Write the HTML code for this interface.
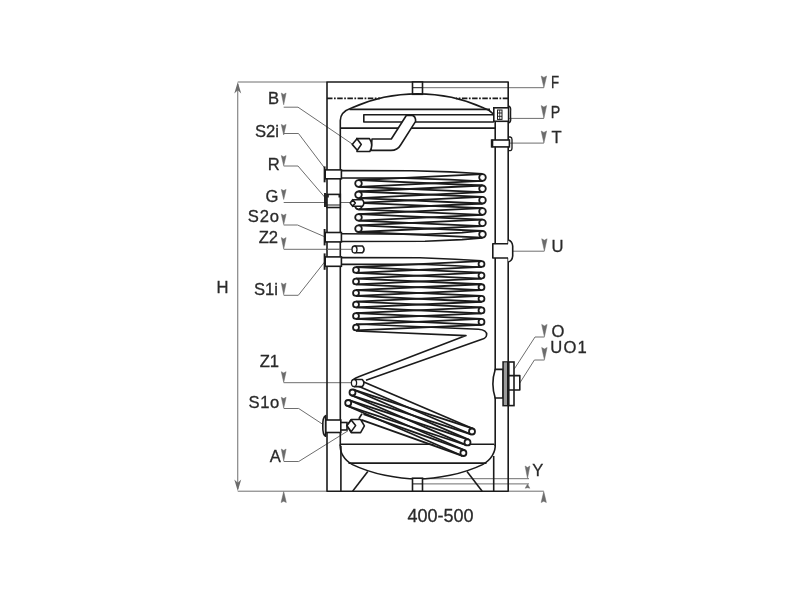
<!DOCTYPE html>
<html><head><meta charset="utf-8"><title>400-500</title>
<style>
html,body{margin:0;padding:0;background:#fff;}
svg{display:block;font-family:"Liberation Sans",sans-serif;will-change:transform;transform:translateZ(0);}
svg path, svg line{stroke-linecap:butt;stroke-linejoin:round;}
svg text{stroke:#2a2a2a;stroke-width:0.3px;}
</style></head><body>
<svg width="800" height="600" viewBox="0 0 800 600">
<rect x="0" y="0" width="800" height="600" fill="#ffffff"/>
<line x1="237.75" y1="82.00" x2="327.00" y2="82.00" stroke="#6e6e6e" stroke-width="1.0" />
<line x1="237.75" y1="491.20" x2="327.00" y2="491.20" stroke="#6e6e6e" stroke-width="1.0" />
<line x1="237.75" y1="84.00" x2="237.75" y2="489.00" stroke="#6e6e6e" stroke-width="1.0" />
<path d="M234.3 93.5 L237.75 90.3 L241.2 93.5 L237.75 82 Z" fill="#6c6c6c"/>
<path d="M234.3 479.5 L237.75 482.7 L241.2 479.5 L237.75 491 Z" fill="#6c6c6c"/>
<path d="M281.10 502.50 L283.70 501.19 L286.30 502.50 L283.70 491.60 Z" fill="#6c6c6c" stroke="#6c6c6c" stroke-width="0.5" stroke-linejoin="miter"/>
<line x1="508.20" y1="491.20" x2="543.75" y2="491.20" stroke="#6e6e6e" stroke-width="1.0" />
<path d="M541.15 502.50 L543.75 501.19 L546.35 502.50 L543.75 491.60 Z" fill="#6c6c6c" stroke="#6c6c6c" stroke-width="0.5" stroke-linejoin="miter"/>
<line x1="412.50" y1="478.70" x2="529.00" y2="478.70" stroke="#6e6e6e" stroke-width="1.0" />
<line x1="412.50" y1="483.90" x2="529.00" y2="483.90" stroke="#6e6e6e" stroke-width="1.0" />
<path d="M525.10 466.00 L527.50 467.48 L529.90 466.00 L527.50 478.30 Z" fill="#6c6c6c" stroke="#6c6c6c" stroke-width="0.5" stroke-linejoin="miter"/>
<path d="M525.20 488.20 L527.50 487.72 L529.80 488.20 L527.50 484.20 Z" fill="#6c6c6c" stroke="#6c6c6c" stroke-width="0.5" stroke-linejoin="miter"/>
<path d="M283.70 107.20 L298.00 107.20 L352.50 144.20" stroke="#6e6e6e" stroke-width="1.0" fill="none" />
<path d="M281.30 93.00 L283.70 94.42 L286.10 93.00 L283.70 104.80 Z" fill="#6c6c6c" stroke="#6c6c6c" stroke-width="0.5" stroke-linejoin="miter"/>
<path d="M283.70 133.50 L298.50 133.50 L324.60 168.00" stroke="#6e6e6e" stroke-width="1.0" fill="none" />
<path d="M281.30 124.40 L283.70 125.67 L286.10 124.40 L283.70 135.00 Z" fill="#6c6c6c" stroke="#6c6c6c" stroke-width="0.5" stroke-linejoin="miter"/>
<path d="M283.70 166.00 L298.00 166.00 L325.00 197.50" stroke="#6e6e6e" stroke-width="1.0" fill="none" />
<path d="M281.30 155.60 L283.70 156.82 L286.10 155.60 L283.70 165.80 Z" fill="#6c6c6c" stroke="#6c6c6c" stroke-width="0.5" stroke-linejoin="miter"/>
<path d="M283.70 202.50 L350.50 202.50" stroke="#6e6e6e" stroke-width="1.0" fill="none" />
<path d="M281.30 189.40 L283.70 190.61 L286.10 189.40 L283.70 199.50 Z" fill="#6c6c6c" stroke="#6c6c6c" stroke-width="0.5" stroke-linejoin="miter"/>
<path d="M283.70 225.00 L297.50 225.00 L324.80 236.80" stroke="#6e6e6e" stroke-width="1.0" fill="none" />
<path d="M281.30 214.00 L283.70 215.27 L286.10 214.00 L283.70 224.60 Z" fill="#6c6c6c" stroke="#6c6c6c" stroke-width="0.5" stroke-linejoin="miter"/>
<path d="M283.70 249.30 L352.00 249.30" stroke="#6e6e6e" stroke-width="1.0" fill="none" />
<path d="M281.30 237.60 L283.70 238.97 L286.10 237.60 L283.70 249.00 Z" fill="#6c6c6c" stroke="#6c6c6c" stroke-width="0.5" stroke-linejoin="miter"/>
<path d="M283.70 295.30 L298.30 295.30 L324.60 262.00" stroke="#6e6e6e" stroke-width="1.0" fill="none" />
<path d="M281.30 283.00 L283.70 284.42 L286.10 283.00 L283.70 294.80 Z" fill="#6c6c6c" stroke="#6c6c6c" stroke-width="0.5" stroke-linejoin="miter"/>
<path d="M283.70 382.70 L351.30 382.70" stroke="#6e6e6e" stroke-width="1.0" fill="none" />
<path d="M281.30 371.70 L283.70 372.98 L286.10 371.70 L283.70 382.40 Z" fill="#6c6c6c" stroke="#6c6c6c" stroke-width="0.5" stroke-linejoin="miter"/>
<path d="M283.70 408.50 L298.70 408.50 L322.00 423.80" stroke="#6e6e6e" stroke-width="1.0" fill="none" />
<path d="M281.30 397.30 L283.70 398.58 L286.10 397.30 L283.70 408.00 Z" fill="#6c6c6c" stroke="#6c6c6c" stroke-width="0.5" stroke-linejoin="miter"/>
<path d="M283.70 461.50 L298.70 461.50 L348.00 430.80" stroke="#6e6e6e" stroke-width="1.0" fill="none" />
<path d="M281.30 449.00 L283.70 450.44 L286.10 449.00 L283.70 461.00 Z" fill="#6c6c6c" stroke="#6c6c6c" stroke-width="0.5" stroke-linejoin="miter"/>
<path d="M412.50 87.70 L543.90 87.70" stroke="#6e6e6e" stroke-width="1.0" fill="none" />
<path d="M541.20 76.00 L543.90 77.39 L546.60 76.00 L543.90 87.60 Z" fill="#6c6c6c" stroke="#6c6c6c" stroke-width="0.5" stroke-linejoin="miter"/>
<path d="M506.00 118.40 L543.90 118.40" stroke="#6e6e6e" stroke-width="1.0" fill="none" />
<path d="M541.20 105.60 L543.90 107.11 L546.60 105.60 L543.90 118.20 Z" fill="#6c6c6c" stroke="#6c6c6c" stroke-width="0.5" stroke-linejoin="miter"/>
<path d="M505.00 143.10 L543.90 143.10" stroke="#6e6e6e" stroke-width="1.0" fill="none" />
<path d="M541.20 131.00 L543.90 132.44 L546.60 131.00 L543.90 143.00 Z" fill="#6c6c6c" stroke="#6c6c6c" stroke-width="0.5" stroke-linejoin="miter"/>
<path d="M503.80 251.20 L544.40 251.20" stroke="#6e6e6e" stroke-width="1.0" fill="none" />
<path d="M541.70 238.80 L544.40 240.26 L547.10 238.80 L544.40 251.00 Z" fill="#6c6c6c" stroke="#6c6c6c" stroke-width="0.5" stroke-linejoin="miter"/>
<path d="M514.40 368.80 L535.00 337.00 L544.40 337.00" stroke="#6e6e6e" stroke-width="1.0" fill="none" />
<path d="M541.70 324.40 L544.40 325.89 L547.10 324.40 L544.40 336.80 Z" fill="#6c6c6c" stroke="#6c6c6c" stroke-width="0.5" stroke-linejoin="miter"/>
<path d="M519.80 383.00 L534.40 360.00 L544.40 360.00" stroke="#6e6e6e" stroke-width="1.0" fill="none" />
<path d="M541.70 347.50 L544.40 348.98 L547.10 347.50 L544.40 359.80 Z" fill="#6c6c6c" stroke="#6c6c6c" stroke-width="0.5" stroke-linejoin="miter"/>
<path d="M327.0 491.2 L327.0 82.0 L508.2 82.0 L508.2 491.2 Z" stroke="#1b1b1b" stroke-width="1.6" fill="none" />
<line x1="327.00" y1="98.40" x2="380.00" y2="98.40" stroke="#1b1b1b" stroke-width="1.6" stroke-dasharray="5.5 1.5 1.7 1.5"/>
<line x1="508.20" y1="98.40" x2="456.00" y2="98.40" stroke="#1b1b1b" stroke-width="1.6" stroke-dasharray="5.5 1.5 1.7 1.5"/>
<rect x="412.50" y="82.00" width="10.00" height="12.30" fill="#fff" stroke="#1b1b1b" stroke-width="1.6"/>
<line x1="412.50" y1="87.70" x2="422.50" y2="87.70" stroke="#1b1b1b" stroke-width="1.0" />
<path d="M340.3 446 L340.3 120.5 C340.3 113.5 344.5 110.3 351.5 107.9 A161 161 0 0 1 483.8 107.9 C490.5 110.3 495.2 113.5 495.2 120.5 L495.2 446" stroke="#1b1b1b" stroke-width="1.6" fill="none" />
<line x1="349.50" y1="109.40" x2="490.00" y2="109.40" stroke="#1b1b1b" stroke-width="1.6" />
<line x1="340.30" y1="128.10" x2="495.20" y2="128.10" stroke="#1b1b1b" stroke-width="1.6" />
<path d="M493.8 114.7 L363.8 114.7 L363.8 122 L493.8 122" stroke="#1b1b1b" stroke-width="1.6" fill="none" />
<path d="M372 139 L391.3 139 L406.3 115.5 L411.8 115.1 Q415.8 116 415.6 121.4 L400.6 145 Q397.5 150.4 391 150.4 L371 150.4 Z" stroke="#1b1b1b" stroke-width="1.6" fill="#fff" />
<path d="M356 138.6 L369.5 138.6 Q373.8 145 369.8 151.5 L356.5 151.5" stroke="#1b1b1b" stroke-width="1.6" fill="#fff" />
<path d="M352.2 144.4 L357 138.7 L361.3 144.4 L357.3 150.2 Z" stroke="#1b1b1b" stroke-width="1.6" fill="#fff" />
<path d="M357.3 150.2 L356.5 151.5 M357 138.7 L356 138.6" stroke="#1b1b1b" stroke-width="1.2" fill="none" />
<rect x="493.80" y="107.80" width="14.80" height="13.50" fill="#fff" stroke="#1b1b1b" stroke-width="1.6"/>
<path d="M508.4 106 Q511.4 106.5 510.6 112 L510.6 117 Q511.4 122.5 508.4 123" stroke="#1b1b1b" stroke-width="1.3" fill="none" />
<rect x="497.50" y="110.00" width="4.50" height="9.40" fill="#fff" stroke="#1b1b1b" stroke-width="1.0"/>
<line x1="497.50" y1="113.00" x2="502.00" y2="113.00" stroke="#1b1b1b" stroke-width="0.9" />
<line x1="497.50" y1="116.30" x2="502.00" y2="116.30" stroke="#1b1b1b" stroke-width="0.9" />
<line x1="499.70" y1="110.00" x2="499.70" y2="119.40" stroke="#1b1b1b" stroke-width="0.8" />
<rect x="492.50" y="140.00" width="16.90" height="6.90" fill="#fff" stroke="#1b1b1b" stroke-width="1.6"/>
<path d="M508.6 137 L510.3 137 Q512 137.3 512 139.5 L512 148 Q512 150.4 510.3 150.6 L508.6 150.6" stroke="#1b1b1b" stroke-width="1.3" fill="none" />
<path d="M491.6 139.3 L491.6 147.6" stroke="#1b1b1b" stroke-width="1.6" fill="none" />
<rect x="492.8" y="243.8" width="16.5" height="14.2" fill="#fff"/>
<path d="M508.2 243.8 L492.8 243.8 L492.8 258 L508.2 258" stroke="#1b1b1b" stroke-width="1.6" fill="none" />
<path d="M508.2 240 Q512.2 241 512.7 246 L512.7 256 Q512.2 261 508.2 262" stroke="#1b1b1b" stroke-width="1.6" fill="#fff" />
<rect x="325.20" y="169.90" width="16.20" height="8.90" fill="#fff" stroke="#1b1b1b" stroke-width="1.6"/>
<path d="M324.59999999999997 166.4 L324.59999999999997 182.3" stroke="#1b1b1b" stroke-width="1.9" fill="none" />
<rect x="325.20" y="232.50" width="16.20" height="9.40" fill="#fff" stroke="#1b1b1b" stroke-width="1.6"/>
<path d="M324.59999999999997 229.0 L324.59999999999997 245.4" stroke="#1b1b1b" stroke-width="1.9" fill="none" />
<rect x="325.20" y="256.90" width="16.20" height="9.40" fill="#fff" stroke="#1b1b1b" stroke-width="1.6"/>
<path d="M324.59999999999997 253.39999999999998 L324.59999999999997 269.8" stroke="#1b1b1b" stroke-width="1.9" fill="none" />
<rect x="327.00" y="194.40" width="13.30" height="13.10" fill="#fff" stroke="#1b1b1b" stroke-width="1.6"/>
<line x1="327.00" y1="205.00" x2="340.30" y2="205.00" stroke="#1b1b1b" stroke-width="1.0" />
<path d="M325 193 L325 207" stroke="#1b1b1b" stroke-width="1.9" fill="none" />
<path d="M328 194.4 L328 197.5 M339.3 194.4 L339.3 197.5" stroke="#1b1b1b" stroke-width="1.6" fill="none" />
<line x1="327.00" y1="249.30" x2="340.30" y2="249.30" stroke="#6e6e6e" stroke-width="1.0" />
<rect x="325.60" y="420.00" width="15.20" height="12.50" fill="#fff" stroke="#1b1b1b" stroke-width="1.6"/>
<path d="M325.6 415.6 Q322.6 417 322.8 426 Q322.6 435 325.6 436.2 Z" stroke="#1b1b1b" stroke-width="1.6" fill="#fff" />
<rect x="340.80" y="422.50" width="6.20" height="7.50" fill="#fff" stroke="#1b1b1b" stroke-width="1.6"/>
<path d="M341.4 170.6 L412 170.7 L450 171.9 L482.5 173.70" stroke="#1b1b1b" stroke-width="1.6" fill="none" />
<path d="M341.4 178 L405 178.1 L450 179.6 L482.5 181.30" stroke="#1b1b1b" stroke-width="1.6" fill="none" />
<path d="M341.4 233.8 L425 234.2 L462 232.6 L482.5 230.70" stroke="#1b1b1b" stroke-width="1.6" fill="none" />
<path d="M341.4 241.5 L425 241.3 L462 239.6 L482.5 237.90" stroke="#1b1b1b" stroke-width="1.6" fill="none" />
<line x1="358.66" y1="186.80" x2="482.66" y2="180.80" stroke="#1b1b1b" stroke-width="1.8" />
<line x1="358.34" y1="180.20" x2="482.34" y2="174.20" stroke="#1b1b1b" stroke-width="1.8" />
<line x1="358.36" y1="186.80" x2="482.36" y2="192.10" stroke="#1b1b1b" stroke-width="1.8" />
<line x1="358.64" y1="180.20" x2="482.64" y2="185.50" stroke="#1b1b1b" stroke-width="1.8" />
<line x1="358.66" y1="198.10" x2="482.66" y2="192.10" stroke="#1b1b1b" stroke-width="1.8" />
<line x1="358.34" y1="191.50" x2="482.34" y2="185.50" stroke="#1b1b1b" stroke-width="1.8" />
<line x1="358.36" y1="198.10" x2="482.36" y2="203.50" stroke="#1b1b1b" stroke-width="1.8" />
<line x1="358.64" y1="191.50" x2="482.64" y2="196.90" stroke="#1b1b1b" stroke-width="1.8" />
<line x1="358.66" y1="209.40" x2="482.66" y2="203.50" stroke="#1b1b1b" stroke-width="1.8" />
<line x1="358.34" y1="202.80" x2="482.34" y2="196.90" stroke="#1b1b1b" stroke-width="1.8" />
<line x1="358.36" y1="209.40" x2="482.36" y2="214.80" stroke="#1b1b1b" stroke-width="1.8" />
<line x1="358.64" y1="202.80" x2="482.64" y2="208.20" stroke="#1b1b1b" stroke-width="1.8" />
<line x1="358.66" y1="220.70" x2="482.66" y2="214.80" stroke="#1b1b1b" stroke-width="1.8" />
<line x1="358.34" y1="214.10" x2="482.34" y2="208.20" stroke="#1b1b1b" stroke-width="1.8" />
<line x1="358.35" y1="220.70" x2="482.35" y2="226.20" stroke="#1b1b1b" stroke-width="1.8" />
<line x1="358.65" y1="214.10" x2="482.65" y2="219.60" stroke="#1b1b1b" stroke-width="1.8" />
<line x1="358.65" y1="232.00" x2="482.65" y2="226.20" stroke="#1b1b1b" stroke-width="1.8" />
<line x1="358.35" y1="225.40" x2="482.35" y2="219.60" stroke="#1b1b1b" stroke-width="1.8" />
<line x1="358.35" y1="232.00" x2="482.35" y2="237.60" stroke="#1b1b1b" stroke-width="1.8" />
<line x1="358.65" y1="225.40" x2="482.65" y2="231.00" stroke="#1b1b1b" stroke-width="1.8" />
<circle cx="482.50" cy="177.50" r="3.30" fill="#fff" stroke="#1b1b1b" stroke-width="1.8"/>
<circle cx="482.50" cy="188.80" r="3.30" fill="#fff" stroke="#1b1b1b" stroke-width="1.8"/>
<circle cx="482.50" cy="200.20" r="3.30" fill="#fff" stroke="#1b1b1b" stroke-width="1.8"/>
<circle cx="482.50" cy="211.50" r="3.30" fill="#fff" stroke="#1b1b1b" stroke-width="1.8"/>
<circle cx="482.50" cy="222.90" r="3.30" fill="#fff" stroke="#1b1b1b" stroke-width="1.8"/>
<circle cx="482.50" cy="234.30" r="3.30" fill="#fff" stroke="#1b1b1b" stroke-width="1.8"/>
<circle cx="358.50" cy="183.50" r="3.30" fill="#fff" stroke="#1b1b1b" stroke-width="1.8"/>
<circle cx="358.50" cy="194.80" r="3.30" fill="#fff" stroke="#1b1b1b" stroke-width="1.8"/>
<circle cx="358.50" cy="206.10" r="3.30" fill="#fff" stroke="#1b1b1b" stroke-width="1.8"/>
<circle cx="358.50" cy="217.40" r="3.30" fill="#fff" stroke="#1b1b1b" stroke-width="1.8"/>
<circle cx="358.50" cy="228.70" r="3.30" fill="#fff" stroke="#1b1b1b" stroke-width="1.8"/>
<path d="M352.7 199.7 L362.5 199.7 Q365.2 203 362.5 206.3 L352.7 206.3" stroke="#1b1b1b" stroke-width="1.6" fill="#fff" />
<path d="M350.2 203 L352.7 199.7 L355.3 203 L352.7 206.3 Z" stroke="#1b1b1b" stroke-width="1.6" fill="#fff" />
<path d="M354.3 246 L362.5 246 Q365.6 249.4 362.5 252.8 L354.3 252.8" stroke="#1b1b1b" stroke-width="1.6" fill="#fff" />
<ellipse cx="354.5" cy="249.4" rx="2.5" ry="3.4" fill="#fff" stroke="#1b1b1b" stroke-width="1.3"/>
<path d="M341.4 257.6 L420 257.7 L455 259.2 L481.5 260.75" stroke="#1b1b1b" stroke-width="1.6" fill="none" />
<path d="M341.4 264.4 L420 264.3 L455 265.8 L481.5 267.25" stroke="#1b1b1b" stroke-width="1.6" fill="none" />
<line x1="356.14" y1="272.95" x2="481.64" y2="266.95" stroke="#1b1b1b" stroke-width="1.8" />
<line x1="355.86" y1="267.05" x2="481.36" y2="261.05" stroke="#1b1b1b" stroke-width="1.8" />
<line x1="355.87" y1="272.95" x2="481.37" y2="278.55" stroke="#1b1b1b" stroke-width="1.8" />
<line x1="356.13" y1="267.05" x2="481.63" y2="272.65" stroke="#1b1b1b" stroke-width="1.8" />
<line x1="356.14" y1="284.45" x2="481.64" y2="278.55" stroke="#1b1b1b" stroke-width="1.8" />
<line x1="355.86" y1="278.55" x2="481.36" y2="272.65" stroke="#1b1b1b" stroke-width="1.8" />
<line x1="355.87" y1="284.45" x2="481.37" y2="290.15" stroke="#1b1b1b" stroke-width="1.8" />
<line x1="356.13" y1="278.55" x2="481.63" y2="284.25" stroke="#1b1b1b" stroke-width="1.8" />
<line x1="356.14" y1="295.95" x2="481.64" y2="290.15" stroke="#1b1b1b" stroke-width="1.8" />
<line x1="355.86" y1="290.05" x2="481.36" y2="284.25" stroke="#1b1b1b" stroke-width="1.8" />
<line x1="355.86" y1="295.95" x2="481.36" y2="301.75" stroke="#1b1b1b" stroke-width="1.8" />
<line x1="356.14" y1="290.05" x2="481.64" y2="295.85" stroke="#1b1b1b" stroke-width="1.8" />
<line x1="356.13" y1="307.45" x2="481.63" y2="301.75" stroke="#1b1b1b" stroke-width="1.8" />
<line x1="355.87" y1="301.55" x2="481.37" y2="295.85" stroke="#1b1b1b" stroke-width="1.8" />
<line x1="355.86" y1="307.45" x2="481.36" y2="313.35" stroke="#1b1b1b" stroke-width="1.8" />
<line x1="356.14" y1="301.55" x2="481.64" y2="307.45" stroke="#1b1b1b" stroke-width="1.8" />
<line x1="356.13" y1="318.95" x2="481.63" y2="313.35" stroke="#1b1b1b" stroke-width="1.8" />
<line x1="355.87" y1="313.05" x2="481.37" y2="307.45" stroke="#1b1b1b" stroke-width="1.8" />
<line x1="355.86" y1="318.95" x2="481.36" y2="324.85" stroke="#1b1b1b" stroke-width="1.8" />
<line x1="356.14" y1="313.05" x2="481.64" y2="318.95" stroke="#1b1b1b" stroke-width="1.8" />
<line x1="356.13" y1="330.45" x2="481.63" y2="324.85" stroke="#1b1b1b" stroke-width="1.8" />
<line x1="355.87" y1="324.55" x2="481.37" y2="318.95" stroke="#1b1b1b" stroke-width="1.8" />
<circle cx="481.50" cy="264.00" r="2.95" fill="#fff" stroke="#1b1b1b" stroke-width="1.8"/>
<circle cx="481.50" cy="275.60" r="2.95" fill="#fff" stroke="#1b1b1b" stroke-width="1.8"/>
<circle cx="481.50" cy="287.20" r="2.95" fill="#fff" stroke="#1b1b1b" stroke-width="1.8"/>
<circle cx="481.50" cy="298.80" r="2.95" fill="#fff" stroke="#1b1b1b" stroke-width="1.8"/>
<circle cx="481.50" cy="310.40" r="2.95" fill="#fff" stroke="#1b1b1b" stroke-width="1.8"/>
<circle cx="481.50" cy="321.90" r="2.95" fill="#fff" stroke="#1b1b1b" stroke-width="1.8"/>
<circle cx="356.00" cy="270.00" r="2.95" fill="#fff" stroke="#1b1b1b" stroke-width="1.8"/>
<circle cx="356.00" cy="281.50" r="2.95" fill="#fff" stroke="#1b1b1b" stroke-width="1.8"/>
<circle cx="356.00" cy="293.00" r="2.95" fill="#fff" stroke="#1b1b1b" stroke-width="1.8"/>
<circle cx="356.00" cy="304.50" r="2.95" fill="#fff" stroke="#1b1b1b" stroke-width="1.8"/>
<circle cx="356.00" cy="316.00" r="2.95" fill="#fff" stroke="#1b1b1b" stroke-width="1.8"/>
<circle cx="356.00" cy="327.50" r="2.95" fill="#fff" stroke="#1b1b1b" stroke-width="1.8"/>
<path d="M356 324 L478.5 329.3 Q487.2 330 486.6 335 Q486.2 338.2 482 339.3 L366 380.2" stroke="#1b1b1b" stroke-width="1.6" fill="none" />
<path d="M356 331 L466 335.6 L358 377 Q353.5 378.5 352.3 381.5" stroke="#1b1b1b" stroke-width="1.6" fill="none" />
<line x1="340.30" y1="444.30" x2="494.20" y2="444.30" stroke="#1b1b1b" stroke-width="1.6" />
<path d="M340.3 444.3 C339.5 452 344 460 352.5 464.6 C372 474 398 479 417.5 479 C437 479 463 474 482.5 464.6 C491 460 495.8 452 495.2 444.3" stroke="#1b1b1b" stroke-width="1.6" fill="none" />
<line x1="348.50" y1="463.10" x2="486.50" y2="463.10" stroke="#1b1b1b" stroke-width="1.6" />
<line x1="340.90" y1="446.00" x2="340.90" y2="491.20" stroke="#1b1b1b" stroke-width="1.6" />
<line x1="493.70" y1="456.00" x2="493.70" y2="491.20" stroke="#1b1b1b" stroke-width="1.6" />
<line x1="367.80" y1="471.60" x2="352.60" y2="491.20" stroke="#1b1b1b" stroke-width="1.6" />
<line x1="467.00" y1="471.40" x2="482.20" y2="491.20" stroke="#1b1b1b" stroke-width="1.6" />
<rect x="412.50" y="478.20" width="10.00" height="13.00" fill="#fff" stroke="#1b1b1b" stroke-width="1.6"/>
<line x1="412.50" y1="483.90" x2="422.50" y2="483.90" stroke="#1b1b1b" stroke-width="1.0" />
<path d="M357 379 L472 427.5 L476 431.5 L472 435.5 L471.5 442.5 L467.5 446.5 L467 453 L463 457 L362 414 L346 407 L344.5 403 L349 392 Z" fill="#fff"/>
<line x1="357.32" y1="385.76" x2="470.82" y2="434.26" stroke="#1b1b1b" stroke-width="1.8" />
<line x1="359.68" y1="380.24" x2="473.18" y2="428.74" stroke="#1b1b1b" stroke-width="1.8" />
<line x1="351.57" y1="395.35" x2="471.07" y2="434.35" stroke="#1b1b1b" stroke-width="1.8" />
<line x1="353.43" y1="389.65" x2="472.93" y2="428.65" stroke="#1b1b1b" stroke-width="1.8" />
<line x1="351.31" y1="395.25" x2="466.31" y2="445.15" stroke="#1b1b1b" stroke-width="1.8" />
<line x1="353.69" y1="389.75" x2="468.69" y2="439.65" stroke="#1b1b1b" stroke-width="1.8" />
<line x1="347.26" y1="405.85" x2="466.56" y2="445.25" stroke="#1b1b1b" stroke-width="1.8" />
<line x1="349.14" y1="400.15" x2="468.44" y2="439.55" stroke="#1b1b1b" stroke-width="1.8" />
<line x1="347.01" y1="405.75" x2="462.21" y2="455.75" stroke="#1b1b1b" stroke-width="1.8" />
<line x1="349.39" y1="400.25" x2="464.59" y2="450.25" stroke="#1b1b1b" stroke-width="1.8" />
<line x1="361.49" y1="419.83" x2="462.39" y2="455.83" stroke="#1b1b1b" stroke-width="1.8" />
<line x1="363.51" y1="414.17" x2="464.41" y2="450.17" stroke="#1b1b1b" stroke-width="1.8" />
<circle cx="472.00" cy="431.50" r="3.00" fill="#fff" stroke="#1b1b1b" stroke-width="1.8"/>
<circle cx="467.50" cy="442.40" r="3.00" fill="#fff" stroke="#1b1b1b" stroke-width="1.8"/>
<circle cx="463.40" cy="453.00" r="3.00" fill="#fff" stroke="#1b1b1b" stroke-width="1.8"/>
<circle cx="352.50" cy="392.50" r="3.00" fill="#fff" stroke="#1b1b1b" stroke-width="1.8"/>
<circle cx="348.20" cy="403.00" r="3.00" fill="#fff" stroke="#1b1b1b" stroke-width="1.8"/>
<path d="M354 379.5 L362.3 379.5 Q365.6 383 362.3 386.6 L354 386.6" stroke="#1b1b1b" stroke-width="1.6" fill="#fff" />
<ellipse cx="354" cy="383" rx="2.6" ry="3.5" fill="#fff" stroke="#1b1b1b" stroke-width="1.3"/>
<line x1="362.00" y1="413.80" x2="358.80" y2="418.80" stroke="#1b1b1b" stroke-width="1.6" />
<path d="M347 425.6 L351.2 419.5 L360.6 419.5 L364.4 425.8 L360.6 432.6 L351.2 432.6 Z" stroke="#1b1b1b" stroke-width="1.6" fill="#fff" />
<path d="M347 425.6 L351.2 420 L355.6 425.6 L351.2 431.6 Z" stroke="#1b1b1b" stroke-width="1.6" fill="#fff" />
<path d="M495.2 369.4 L503.1 369.4 L503.1 398 L495.2 398 Q490.6 383.7 495.2 369.4 Z" stroke="#1b1b1b" stroke-width="1.6" fill="#fff" />
<rect x="503.10" y="362.00" width="10.90" height="43.60" fill="#fff" stroke="#1b1b1b" stroke-width="1.6"/>
<rect x="504" y="362.6" width="3.2" height="42.4" fill="#9a9a9a"/>
<path d="M508.3 362 L508.3 405.6" stroke="#1b1b1b" stroke-width="2.6" fill="none" />
<path d="M509 375.6 L519.8 375.6 L519.8 390 L509 390" stroke="#1b1b1b" stroke-width="1.6" fill="none" />
<text x="279.00" y="103.80" font-size="16.6" text-anchor="end" fill="#2a2a2a">B</text>
<text x="279.00" y="136.80" font-size="16.6" text-anchor="end" fill="#2a2a2a">S2i</text>
<text x="279.80" y="170.00" font-size="16.6" text-anchor="end" fill="#2a2a2a">R</text>
<text x="278.50" y="202.00" font-size="16.6" text-anchor="end" fill="#2a2a2a">G</text>
<text x="279.80" y="222.30" font-size="16.6" text-anchor="end" fill="#2a2a2a" letter-spacing="0.8">S2o</text>
<text x="278.00" y="242.50" font-size="16.6" text-anchor="end" fill="#2a2a2a">Z2</text>
<text x="278.00" y="295.00" font-size="16.6" text-anchor="end" fill="#2a2a2a">S1i</text>
<text x="216.50" y="292.50" font-size="16.6" text-anchor="start" fill="#2a2a2a">H</text>
<text x="279.00" y="366.50" font-size="16.6" text-anchor="end" fill="#2a2a2a">Z1</text>
<text x="279.80" y="407.60" font-size="16.6" text-anchor="end" fill="#2a2a2a" letter-spacing="0.6">S1o</text>
<text x="280.80" y="462.00" font-size="16.6" text-anchor="end" fill="#2a2a2a">A</text>
<text transform="translate(550.9 88) scale(0.8 1)" font-size="16.6" fill="#2a2a2a">F</text>
<text transform="translate(550.8 118) scale(0.86 1)" font-size="16.6" fill="#2a2a2a">P</text>
<text x="551.50" y="143.30" font-size="16.6" text-anchor="start" fill="#2a2a2a">T</text>
<text x="551.60" y="251.70" font-size="16.6" text-anchor="start" fill="#2a2a2a">U</text>
<text x="551.60" y="337.00" font-size="16.6" text-anchor="start" fill="#2a2a2a">O</text>
<text x="550.30" y="353.00" font-size="16.6" text-anchor="start" fill="#2a2a2a" letter-spacing="1.1">UO1</text>
<text x="532.30" y="475.60" font-size="16.6" text-anchor="start" fill="#2a2a2a">Y</text>
<text x="440.50" y="522.40" font-size="18" text-anchor="middle" fill="#2a2a2a">400-500</text>
</svg>
</body></html>
